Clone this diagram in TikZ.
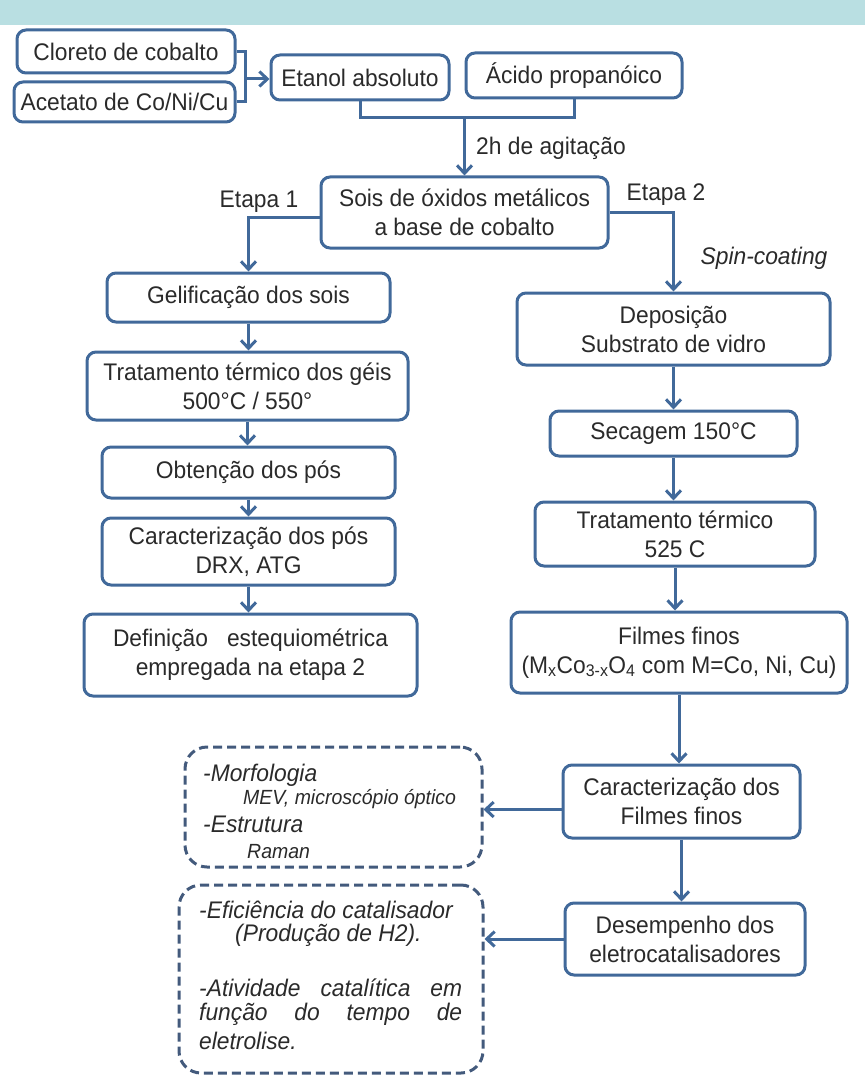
\documentclass[tikz,border=0pt]{standalone}
\usepackage{fontspec}
\setmainfont{Liberation Sans}[FakeStretch=0.95]
\usetikzlibrary{arrows.meta}
\definecolor{band}{HTML}{B9DFE2}
\definecolor{boxblue}{HTML}{41699A}
\definecolor{dashblue}{HTML}{435A7C}
\definecolor{txt}{HTML}{2A2A2A}
\newcommand{\mainsz}{\fontsize{24}{29}\selectfont}
\newcommand{\smallsz}{\fontsize{20.5}{23}\selectfont}
\tikzset{
  bx/.style={draw=boxblue, line width=3pt, rounded corners=9pt, fill=white,
    inner sep=0pt, align=center, text=txt, font=\mainsz},
  dbx/.style={draw=dashblue, line width=3pt, rounded corners=22pt,
    dash pattern=on 9pt off 5pt, inner sep=0pt},
  ln/.style={draw=boxblue, line width=3pt},
  arr/.style={ln, -{Straight Barb[length=8pt,width=15pt,line width=3pt]}},
  lbl/.style={text=txt, font=\mainsz, inner sep=0pt},
  itl/.style={text=txt, font=\mainsz\itshape, inner sep=0pt, anchor=west},
  sml/.style={text=txt, font=\smallsz\itshape, inner sep=0pt, anchor=west},
}
\begin{document}
\begin{tikzpicture}[x=1pt,y=-1pt]
\useasboundingbox (0,0) rectangle (865,1075);
\fill[band] (0,0) rectangle (865,25);

% top
\node[bx, minimum width=218pt, minimum height=43pt] (cloreto) at (126,51.5) {Cloreto de cobalto};
\node[bx, minimum width=221pt, minimum height=40pt] (acetato) at (124.5,102) {Acetato de Co/Ni/Cu};
\node[bx, minimum width=178pt, minimum height=45pt] (etanol) at (360,77.5) {Etanol absoluto};
\node[bx, minimum width=216pt, minimum height=45pt] (acido) at (574,75.5) {Ácido propanóico};
\node[bx, minimum width=287pt, minimum height=71pt] (sois) at (464.5,212.5) {Sois de óxidos metálicos\\a base de cobalto};

% left column
\node[bx, minimum width=283pt, minimum height=49pt] (geli) at (248.5,297.5) {Gelificação dos sois};
\node[bx, minimum width=321pt, minimum height=68pt] (trat1) at (247.5,386) {Tratamento térmico dos géis\\500°C / 550°};
\node[bx, minimum width=293pt, minimum height=51pt] (obt) at (248.5,472.5) {Obtenção dos pós};
\node[bx, minimum width=293pt, minimum height=67pt] (carpos) at (248.5,551.5) {Caracterização dos pós\\DRX, ATG};
\node[bx, minimum width=333pt, minimum height=82pt] (defin) at (250.5,655) {Definição \ \ estequiométrica\\empregada na etapa 2};

% right column
\node[bx, minimum width=313pt, minimum height=72pt] (depo) at (673.5,329) {Deposição\\Substrato de vidro};
\node[bx, minimum width=247pt, minimum height=45pt] (sec) at (673.5,433.5) {Secagem 150°C};
\node[bx, minimum width=280pt, minimum height=64pt] (trat2) at (675,534) {Tratamento térmico\\525 C};
\node[bx, minimum width=336pt, minimum height=81pt] (filmes) at (679,652.5) {Filmes finos\\(M\textsubscript{x}Co\textsubscript{3-x}O\textsubscript{4} com M=Co, Ni, Cu)};
\node[bx, minimum width=237pt, minimum height=73pt] (carfil) at (681.5,801.5) {Caracterização dos\\Filmes finos};
\node[bx, minimum width=240pt, minimum height=72pt] (desemp) at (685,939) {Desempenho dos\\eletrocatalisadores};

% dashed boxes
\node[dbx, minimum width=297pt, minimum height=120pt] (dash1) at (333.5,807) {};
\node[dbx, minimum width=304pt, minimum height=188pt] (dash2) at (331,979) {};

\node[itl] (morf) at (203,775) {-Morfologia};
\node[sml] (mev) at (243,799) {MEV, microscópio óptico};
\node[itl] (estr) at (203,824) {-Estrutura};
\node[sml] (raman) at (247,852) {Raman};

\node[itl] (efic) at (199,910) {-Eficiência do catalisador};
\node[itl] (prod) at (235,935) {(Produção de H2).};
\node[itl] (ativ) at (199,988) {\makebox[263pt][s]{-Atividade\hfill catalítica\hfill em}};
\node[itl] (func) at (199,1014) {\makebox[263pt][s]{função\hfill do\hfill tempo\hfill de}};
\node[itl] (elet) at (199,1041) {eletrolise.};

% labels
\node[lbl, anchor=west] (agit) at (476,148) {2h de agitação};
\node[lbl] (et1) at (259,202) {Etapa 1};
\node[lbl] (et2) at (666,195) {Etapa 2};
\node[lbl, font=\mainsz\itshape] (spin) at (764,258) {Spin-coating};

% connectors
\coordinate (b1) at (245,79);
\draw[ln] (cloreto.east) -| (b1);
\draw[ln] (acetato.east) -| (b1);
\draw[arr] (b1) -- (b1 -| etanol.west);

\coordinate (b2) at (464.5,118);
\draw[ln] (etanol.south) |- (b2) -| (acido.south);
\draw[arr] (b2) -- (sois.north);

\draw[arr] ([yshift=-5pt]sois.west) -| (geli.north);
\draw[arr] (sois.east) -| (depo.north);

\draw[arr] (geli.south) -- (geli.south |- trat1.north);
\draw[arr] (trat1.south) -- (trat1.south |- obt.north);
\draw[arr] (obt.south) -- (obt.south |- carpos.north);
\draw[arr] (carpos.south) -- (carpos.south |- defin.north);

\draw[arr] (depo.south) -- (depo.south |- sec.north);
\draw[arr] (sec.south) -- (sec.south |- trat2.north);
\draw[arr] (trat2.south) -- (trat2.south |- filmes.north);
\draw[arr] (filmes.south) -- (filmes.south |- carfil.north);
\draw[arr] (carfil.south) -- (carfil.south |- desemp.north);

\draw[arr] ([yshift=-8pt]carfil.west) -- ([yshift=-8pt]carfil.west -| dash1.east);
\draw[arr] (desemp.west) -- (desemp.west -| dash2.east);
\end{tikzpicture}
\end{document}
